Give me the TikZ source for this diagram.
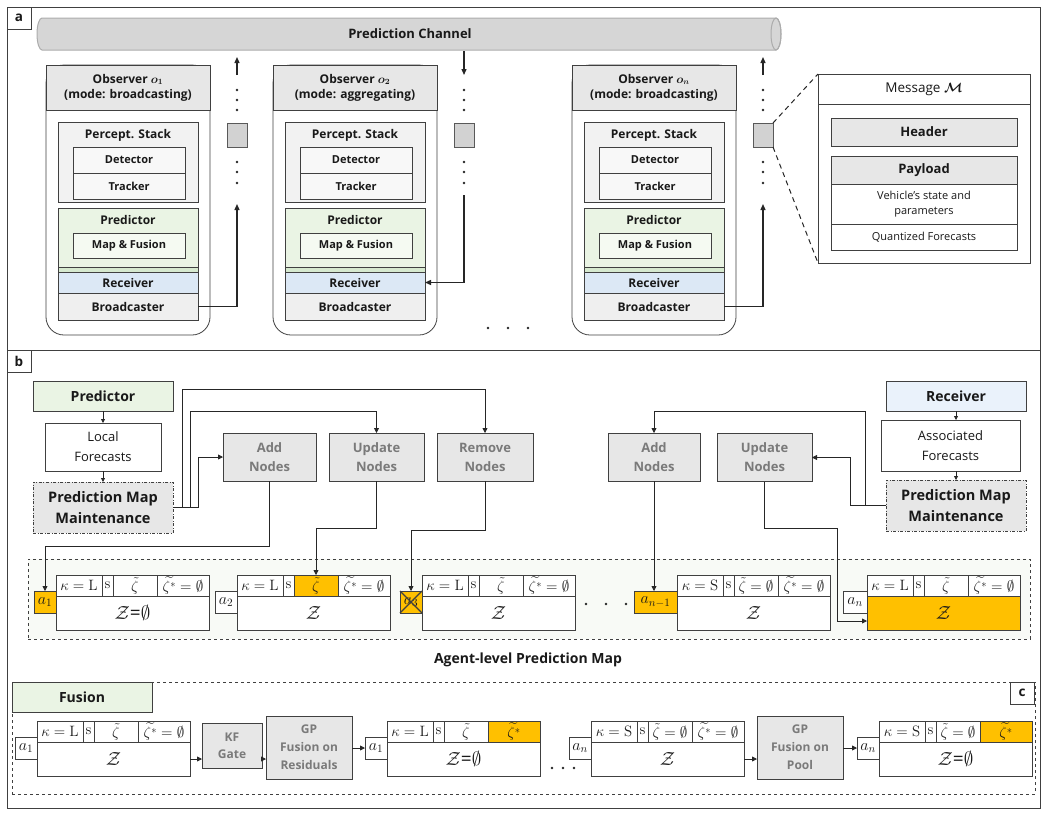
\documentclass[tikz,border=0pt]{standalone}
\usepackage{fix-cm}
\usepackage{amsmath,amssymb}
\usepackage[no-math]{fontspec}
\setmainfont{Open Sans}
\usepackage{tikz}
\usetikzlibrary{positioning, arrows.meta, calc}
\usepackage{xcolor}

\definecolor{hl}{HTML}{FFC000}
\definecolor{frameln}{HTML}{404040}
\definecolor{headgray}{HTML}{E7E7E7}
\definecolor{stackgray}{HTML}{F2F2F2}
\definecolor{detgray}{HTML}{F8F8F8}
\definecolor{bcgray}{HTML}{EFEFEF}
\definecolor{predgreen}{HTML}{EAF4E4}
\definecolor{mfgreen}{HTML}{F5FAF2}
\definecolor{stripgreen}{HTML}{D6E9CF}
\definecolor{rxblue}{HTML}{DCE8F5}
\definecolor{rxlight}{HTML}{EAF2FB}
\definecolor{opgray}{HTML}{E7E7E7}
\definecolor{optext}{HTML}{7A7A7A}
\definecolor{chanfill}{HTML}{D6D6D6}
\definecolor{mapbg}{HTML}{F8FAF6}

% one record of the prediction map: name, top-left of body, agent, kappa, zeta, zeta*, body, fills
\newcommand{\agentrec}[8]{%
  \begin{scope}[#8]
    \node[recmain, anchor=north west] (#1) at (#2) {#7};
    \node[reccell, minimum width=46, anchor=south west] (#1k) at (#1.north west) {$\kappa=\mathrm{#4}$};
    \node[reccell, minimum width=11, anchor=south west] (#1s) at (#1k.south east) {$\mathrm{s}$};
    \node[reccell, cellz, minimum width=44, anchor=south west] (#1z) at (#1s.south east) {#5};
    \node[reccell, cellzs, minimum width=52, anchor=south west] (#1zs) at (#1z.south east) {#6};
    \node[recagent, anchor=south east] (#1a) at (#1.west) {#3};
  \end{scope}}

\begin{document}
\begin{tikzpicture}[
    x=1pt, y=-1pt,
    box/.style={draw=frameln, line width=0.8pt, inner sep=1pt, outer sep=0pt, align=center, text=black!90},
    obsframe/.style={box, fill=white, rounded corners=18pt, minimum width=164, minimum height=270},
    obshead/.style={box, fill=headgray, minimum width=164, minimum height=45, font=\fontsize{12}{15}\selectfont\bfseries},
    stackbox/.style={box, fill=stackgray, minimum width=140, minimum height=80},
    predbox/.style={box, fill=predgreen, minimum width=140, minimum height=59},
    innerbox/.style={box, fill=detgray, minimum width=112, minimum height=26, font=\fontsize{11}{14}\selectfont\bfseries},
    layer/.style={box, minimum width=140, font=\fontsize{12}{15}\selectfont\bfseries},
    boxtitle/.style={anchor=north, inner sep=0pt, yshift=-7pt, text=black!90, font=\fontsize{12}{15}\selectfont\bfseries},
    chanbox/.style={box, fill=gray!35, draw=gray!70!black, minimum width=20, minimum height=24},
    chanarr/.style={-{Triangle[length=6pt,width=5pt]}, line width=1.3pt, black!85},
    panlab/.style={box, fill=white, minimum width=24, minimum height=22, anchor=north west, font=\fontsize{13.5}{14}\selectfont\bfseries},
    msgrow/.style={box, minimum width=186, font=\fontsize{11}{15}\selectfont},
    topbox/.style={box, minimum width=140, minimum height=30, font=\fontsize{14}{15}\selectfont\bfseries},
    textbox/.style={box, fill=white, minimum height=48, font=\fontsize{13}{20}\selectfont},
    pmmbox/.style={box, fill=opgray, minimum width=140, minimum height=51, dash pattern=on 3pt off 1.5pt on 1pt off 1.5pt, font=\fontsize{14.5}{21}\selectfont\bfseries},
    opbox/.style={box, fill=opgray, text=optext, minimum width=93, minimum height=48, font=\fontsize{13}{19}\selectfont\bfseries},
    smallarr/.style={-{Triangle[length=4pt,width=4pt]}, line width=0.8pt, black!85},
    conn/.style={-{Triangle[length=5pt,width=5pt]}, line width=0.8pt, black!85},
    recmain/.style={box, fill=white, minimum width=153, minimum height=34, inner sep=0pt, font=\fontsize{19}{19}\selectfont},
    reccell/.style={box, fill=white, minimum height=21, inner sep=0pt, font=\fontsize{15}{15}\selectfont},
    recagent/.style={box, fill=white, minimum width=22, minimum height=22, inner sep=0.5pt, font=\fontsize{16}{16}\selectfont},
    cellz/.style={}, cellzs/.style={}
]
    \useasboundingbox (0,0) rectangle (1047,815);

    % Frames
    \draw[frameln, line width=1pt] (7,7) rectangle (1040,808);
    \draw[frameln, line width=1pt] (7,350) -- (1040,350);
    \node[panlab] (laba) at (7,7) {a};
    \node[panlab] (labb) at (7,350) {b};

    % Prediction channel
    \fill[chanfill] (42,18) -- (776,18) arc[start angle=-90, end angle=90, x radius=5, y radius=16]
        -- (42,50) arc[start angle=90, end angle=270, x radius=5, y radius=16] -- cycle;
    \draw[gray!65, line width=1pt] (42,18) -- (776,18) arc[start angle=-90, end angle=90, x radius=5, y radius=16]
        -- (42,50) arc[start angle=90, end angle=270, x radius=5, y radius=16] -- cycle;
    \draw[gray!65, line width=1pt] (776,34) ellipse[x radius=5, y radius=16];
    \node[text=black!90, font=\fontsize{13}{13}\selectfont\bfseries] (chan) at (410,34) {Prediction Channel};

    % Observers
    \foreach \ob/\dx/\sub/\md in {1/0/1/broadcasting, 2/227/2/aggregating, 3/526/n/broadcasting} {
        \node[obsframe] (obs\ob) at (128+\dx,200) {};
        \node[obshead, anchor=north] (hd\ob) at (obs\ob.north) {Observer $\boldsymbol{o_{\sub}}$\\(mode: \md)};
        \node[stackbox, label={[boxtitle]north:Percept. Stack}] (ps\ob) at (128+\dx,162) {};
        \node[innerbox] (det\ob) at (129+\dx,160) {Detector};
        \node[innerbox] (trk\ob) at (129+\dx,186) {Tracker};
        \node[predbox, label={[boxtitle]north:Predictor}] (pr\ob) at (128+\dx,237.5) {};
        \node[innerbox, fill=mfgreen, minimum height=25] (mf\ob) at (129+\dx,245.5) {Map \& Fusion};
        \node[layer, fill=stripgreen, minimum height=5] (st\ob) at (128+\dx,269.5) {};
        \node[layer, fill=rxblue, minimum height=21] (rx\ob) at (128+\dx,282.5) {Receiver};
        \node[layer, fill=bcgray, minimum height=27] (bc\ob) at (128+\dx,306.5) {Broadcaster};
        \node[chanbox] (sq\ob) at (237+\dx,135) {};
        \foreach \yy in {90,100,110,162,172,183}
            \fill[black!85] (237+\dx,\yy) circle (1.3);
    }
    \foreach \xx in {488,508,528}
        \fill[black!85] (\xx,328) circle (1.3);

    % Channel links
    \coordinate (t1a) at (237,75);  \coordinate (t1b) at (237,57);
    \coordinate (t2a) at (464,51);  \coordinate (t2b) at (464,75);
    \coordinate (t3a) at (763,75);  \coordinate (t3b) at (763,57);
    \coordinate (u1) at (237,204);  \coordinate (d2) at (464,195);  \coordinate (u3) at (763,204);
    \draw[chanarr] (t1a) -- (t1b);
    \draw[chanarr] (t2a) -- (t2b);
    \draw[chanarr] (t3a) -- (t3b);
    \draw[chanarr] (bc1.east) -| (u1);
    \draw[chanarr] (d2) |- (rx2.east);
    \draw[chanarr] (bc3.east) -| (u3);

    % Message
    \node[box, fill=white, minimum width=212, minimum height=189] (msg) at (924,168.5) {};
    \node[box, fill=white, minimum width=212, minimum height=30, anchor=north, font=\fontsize{13.5}{14}\selectfont] (msghd) at (msg.north) {Message $\boldsymbol{\mathcal{M}}$};
    \node[msgrow, fill=headgray, minimum height=28, font=\fontsize{13}{14}\selectfont\bfseries] (hdr) at (924,132) {Header};
    \node[msgrow, fill=headgray, minimum height=28, font=\fontsize{13}{14}\selectfont\bfseries] (pay) at (924,170) {Payload};
    \node[msgrow, fill=white, minimum height=40] (vst) at (924,204) {Vehicle’s state and\\parameters};
    \node[msgrow, fill=white, minimum height=26] (qf) at (924,237) {Quantized Forecasts};
    \draw[black!85, line width=1pt, dash pattern=on 5pt off 4pt] (sq3.north east) -- (msg.north west);
    \draw[black!85, line width=1pt, dash pattern=on 5pt off 4pt] (sq3.south east) -- (msg.south west);

    % Map maintenance, local side
    \node[topbox, fill=predgreen] (predb) at (103,396) {Predictor};
    \node[textbox, minimum width=116] (locf) at (103,447) {Local\\Forecasts};
    \node[pmmbox] (pmm1) at (103,507.5) {Prediction Map\\Maintenance};
    \node[opbox] (add1) at (269.5,457) {Add\\Nodes};
    \node[opbox, minimum width=95] (upd1) at (376.5,457) {Update\\Nodes};
    \node[opbox, minimum width=96] (rem1) at (485,457) {Remove\\Nodes};
    \draw[smallarr] (predb) -- (locf);
    \draw[smallarr] (locf) -- (pmm1);
    \draw[conn] (pmm1.east) -- ++(25,0) |- (add1.west);
    \draw[conn] (pmm1.east) -- ++(17,0) -- ++(0,-96.5) -| (upd1.north);
    \draw[conn] (pmm1.east) -- ++(9,0) -- ++(0,-118.5) -| (rem1.north);

    % Map maintenance, received side
    \node[topbox, fill=rxlight] (recvb) at (956,396) {Receiver};
    \node[textbox, minimum width=139, minimum height=51] (assoc) at (950.5,445.5) {Associated\\Forecasts};
    \node[pmmbox] (pmm2) at (956,505.5) {Prediction Map\\Maintenance};
    \node[opbox, minimum width=92] (add2) at (654,457) {Add\\Nodes};
    \node[opbox, minimum width=95] (upd2) at (764.5,457.5) {Update\\Nodes};
    \draw[smallarr] (recvb.south) -- (recvb.south |- assoc.north);
    \draw[smallarr] (pmm2.north |- assoc.south) -- (pmm2.north);
    \draw[conn] (pmm2.west) -- ++(-36,0) |- (upd2.east);
    \draw[conn] (pmm2.west) -- ++(-21,0) -- ++(0,-94.5) -| (add2.north);

    % Agent-level prediction map
    \node[draw=frameln, line width=0.8pt, dashed, fill=mapbg, minimum width=1002, minimum height=80] (pmap) at (529,599) {};
    \agentrec{b1}{56,596}{$a_1$}{L}{$\tilde{\zeta}$}{$\widetilde{\zeta^*}=\emptyset$}{$\mathcal{Z}$=$\emptyset$}{recagent/.append style={fill=hl}}
    \agentrec{b2}{237,596}{$a_2$}{L}{$\tilde{\zeta}$}{$\widetilde{\zeta^*}=\emptyset$}{$\mathcal{Z}$}{cellz/.append style={fill=hl}}
    \agentrec{b3}{422,596}{$a_3$}{L}{$\tilde{\zeta}$}{$\widetilde{\zeta^*}=\emptyset$}{$\mathcal{Z}$}{recagent/.append style={fill=hl}}
    \agentrec{b4}{677,596}{$a_{n-1}$}{S}{$\tilde{\zeta}=\emptyset$}{$\widetilde{\zeta^*}=\emptyset$}{$\mathcal{Z}$}{recagent/.append style={fill=hl, minimum width=43}}
    \agentrec{b5}{867,596}{$a_n$}{L}{$\tilde{\zeta}$}{$\widetilde{\zeta^*}=\emptyset$}{$\mathcal{Z}$}{recmain/.append style={fill=hl}, recagent/.append style={minimum width=24}}
    \draw[frameln, line width=1.2pt] (b3a.north west) -- (b3a.south east) (b3a.south west) -- (b3a.north east);
    \foreach \xx in {586,606,626}
        \fill[black!85] (\xx,604) circle (1.3);
    \node[text=black!90, font=\fontsize{14}{15}\selectfont\bfseries] (pmapl) at (528,660) {Agent-level Prediction Map};

    \draw[conn] (add1.south) -- ++(0,65) -| (b1a.north);
    \draw[conn] (upd1.south) -- ++(0,47) -| (b2z.north);
    \draw[conn] (rem1.south) -- ++(0,49) -| (b3a.north);
    \draw[conn] (add2.south) -- (add2.south |- b4a.north);
    \draw[conn] (upd2.south) -- ++(0,47) -| ([xshift=-30pt,yshift=-8pt]b5.west) -- ([yshift=-8pt]b5.west);

    % Fusion
    \node[draw=frameln, line width=0.8pt, dashed, minimum width=1023, minimum height=112] (cfr) at (523.5,738) {};
    \node[topbox, fill=predgreen, anchor=north west] (fus) at (12,682) {Fusion};
    \node[panlab, anchor=north east] (labc) at (1034,682) {c};
    \agentrec{c1}{37,742}{$a_1$}{L}{$\tilde{\zeta}$}{$\widetilde{\zeta^*}=\emptyset$}{$\mathcal{Z}$}{}
    \agentrec{c2}{387,742}{$a_1$}{L}{$\tilde{\zeta}$}{$\widetilde{\zeta^*}$}{$\mathcal{Z}$=$\emptyset$}{cellzs/.append style={fill=hl}}
    \agentrec{c3}{591,742}{$a_n$}{S}{$\tilde{\zeta}=\emptyset$}{$\widetilde{\zeta^*}=\emptyset$}{$\mathcal{Z}$}{}
    \agentrec{c4}{879,742}{$a_n$}{S}{$\tilde{\zeta}=\emptyset$}{$\widetilde{\zeta^*}$}{$\mathcal{Z}$=$\emptyset$}{cellzs/.append style={fill=hl}}
    \node[opbox, minimum width=60, minimum height=45, font=\fontsize{12}{17}\selectfont\bfseries] (kf) at (232,745.5) {KF\\Gate};
    \node[opbox, minimum width=86, minimum height=63, font=\fontsize{12}{18}\selectfont\bfseries] (gpr) at (309,747.5) {GP\\Fusion on\\Residuals};
    \node[opbox, minimum width=86, minimum height=63, font=\fontsize{12}{18}\selectfont\bfseries] (gpp) at (800,747.5) {GP\\Fusion on\\Pool};
    \foreach \xx in {552,563,574}
        \fill[black!85] (\xx,768) circle (1.3);
    \draw[conn] (c1.east) -- (c1.east -| kf.west);
    \draw[conn] (kf.east |- c1.east) -- (c1.east -| gpr.west);
    \draw[conn] (gpr.east |- c2a.west) -- (c2a.west);
    \draw[conn] (c3.east) -- (c3.east -| gpp.west);
    \draw[conn] (gpp.east |- c4a.west) -- (c4a.west);
\end{tikzpicture}
\end{document}
